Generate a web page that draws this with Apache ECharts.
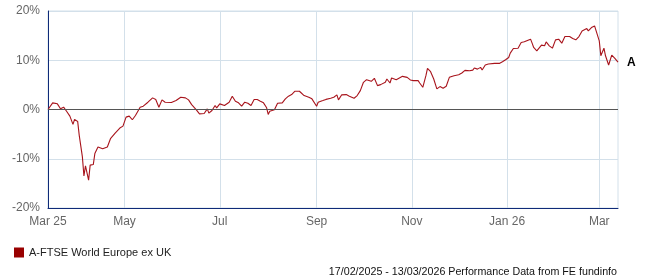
<!DOCTYPE html>
<html>
<head>
<meta charset="utf-8">
<script src="https://cdn.jsdelivr.net/npm/echarts@6/dist/echarts.min.js"></script>
<style>
html,body{margin:0;padding:0;background:#fff;}
#chart{width:647px;height:280px;}
</style>
</head>
<body>
<div id="chart"></div>
<script>
// ---- data ----
var seriesName = 'A-FTSE World Europe ex UK';
var endLabelText = 'A';
var footerText = '17/02/2025 - 13/03/2026 Performance Data from FE fundinfo';
var axisStart = '2025-03-13';
var axisEnd = '2026-03-13';
var gridDates = ['2025-05-01','2025-07-01','2025-09-01','2025-11-01','2026-01-01','2026-03-01'];
var labelDates = ['2025-03-13','2025-05-01','2025-07-01','2025-09-01','2025-11-01','2026-01-01','2026-03-01'];
var labelTexts = ['Mar 25','May','Jul','Sep','Nov','Jan 26','Mar'];
var yTicks = [-20, -10, 0, 10, 20];

var dates = [
'2025-03-13','2025-03-16','2025-03-19','2025-03-21','2025-03-23','2025-03-25','2025-03-27','2025-03-29','2025-03-30',
'2025-04-01','2025-04-02','2025-04-04','2025-04-05','2025-04-06','2025-04-08','2025-04-09','2025-04-11','2025-04-12',
'2025-04-14','2025-04-15','2025-04-17','2025-04-20','2025-04-22','2025-04-25','2025-04-28','2025-04-30',
'2025-05-02','2025-05-04','2025-05-06','2025-05-08','2025-05-11','2025-05-13','2025-05-16','2025-05-19','2025-05-21',
'2025-05-23','2025-05-25','2025-05-27','2025-05-31',
'2025-06-03','2025-06-06','2025-06-09','2025-06-11','2025-06-13','2025-06-14','2025-06-16','2025-06-18','2025-06-21',
'2025-06-23','2025-06-24','2025-06-26','2025-06-28','2025-06-29',
'2025-07-01','2025-07-04','2025-07-07','2025-07-09','2025-07-11','2025-07-13','2025-07-15','2025-07-17','2025-07-19',
'2025-07-21','2025-07-23','2025-07-25','2025-07-27','2025-07-29','2025-07-31',
'2025-08-01','2025-08-02','2025-08-05','2025-08-07','2025-08-10','2025-08-12','2025-08-14','2025-08-16','2025-08-18',
'2025-08-21','2025-08-22','2025-08-24','2025-08-27','2025-08-29',
'2025-09-01','2025-09-02','2025-09-05','2025-09-07','2025-09-10','2025-09-12','2025-09-14','2025-09-15','2025-09-17',
'2025-09-20','2025-09-22','2025-09-23','2025-09-25','2025-09-27','2025-09-29',
'2025-10-01','2025-10-03','2025-10-06','2025-10-08','2025-10-09','2025-10-10','2025-10-12','2025-10-13','2025-10-15',
'2025-10-16','2025-10-18','2025-10-19','2025-10-22','2025-10-24','2025-10-26','2025-10-29','2025-10-31',
'2025-11-02','2025-11-05','2025-11-06','2025-11-08','2025-11-10','2025-11-11','2025-11-13','2025-11-15','2025-11-17',
'2025-11-19','2025-11-21','2025-11-23','2025-11-25','2025-11-28',
'2025-12-01','2025-12-03','2025-12-05','2025-12-08','2025-12-10','2025-12-11','2025-12-13','2025-12-15','2025-12-16',
'2025-12-18','2025-12-20','2025-12-24','2025-12-27','2025-12-29','2025-12-31',
'2026-01-02','2026-01-03','2026-01-05','2026-01-08','2026-01-10','2026-01-12','2026-01-16','2026-01-17','2026-01-18',
'2026-01-20','2026-01-21','2026-01-23','2026-01-25','2026-01-26','2026-01-28','2026-01-30',
'2026-02-01','2026-02-03','2026-02-05','2026-02-07','2026-02-10','2026-02-12','2026-02-14','2026-02-16','2026-02-18',
'2026-02-19','2026-02-21','2026-02-22','2026-02-24','2026-02-26','2026-02-27',
'2026-03-01','2026-03-02','2026-03-04','2026-03-05','2026-03-07','2026-03-09','2026-03-11','2026-03-13'
];
var values = [
0, 1.35, 1.15, 0.14, 0.47, -0.40, -1.35, -3.03, -2.0,
-2.42, -5.25, -9.56, -13.47, -11.45, -14.34, -11.3, -11.18, -8.95,
-7.6, -7.8, -7.95, -7.6, -5.93, -4.79, -3.77, -3.37,
-1.55, -1.35, -2.08, -1.21, 0.47, 0.67, 1.48, 2.36, 2.02,
0.47, 1.95, 1.48, 1.41,
1.82, 2.49, 2.36, 1.95, 1.0, 1.28, -0.07, -0.88, -0.81,
0.13, -0.74, -0.2, 0.81, 0.34,
1.14, 0.81, 1.48, 2.70, 1.68, 1.35, 0.67, 1.48, 1.28,
0.81, 2.02, 2.02, 1.68, 1.35, 0.34,
-1.01, -0.34, -0.07, 1.28, 1.35, 2.16, 2.70, 3.03, 3.70,
3.70, 4.04, 2.83, 2.49, 2.16,
0.67, 1.48, 1.82, 2.05, 2.29, 2.49, 2.96, 1.95, 2.96,
3.03, 2.70, 3.03, 2.29, 2.83, 3.84,
5.52, 6.06, 5.72, 6.33, 6.06, 4.85, 5.05, 4.71, 5.52,
6.19, 5.38, 6.40, 6.06, 6.40, 6.73, 6.53, 6.0,
5.86, 5.86, 5.38, 4.51, 6.87, 8.35, 7.68, 6.19, 4.18,
4.65, 4.31, 4.71, 6.53, 6.87,
7.07, 7.41, 7.95, 7.88, 8.0, 8.42, 8.2, 8.55, 8.02,
9.03, 9.23, 9.36, 9.36, 9.7, 10.1,
10.57, 11.45, 12.38, 12.45, 13.6, 13.74, 14.28, 13.47, 12.59,
11.92, 12.26, 13.07, 12.93, 13.74, 12.93, 12.45,
14.14, 14.28, 13.47, 14.81, 14.81, 14.41, 14.14, 14.81, 15.96,
15.62, 16.43, 15.96, 16.63, 16.97, 16.77,
13.94, 10.91, 12.45, 10.91, 9.03, 11.05, 10.37, 9.6
];

// ---- chart ----
function ts(d){ var p = d.split('-'); return Date.UTC(+p[0], +p[1]-1, +p[2]); }
var labelTs = labelDates.map(ts);
var seriesData = dates.map(function(d, i){ return [ts(d), values[i]]; });

var chart = echarts.init(document.getElementById('chart'), null, {renderer:'canvas'});
var FONT = 'Liberation Sans, Arial, sans-serif';
var option = {
  animation: false,
  grid: {left: 48, right: 29, top: 11, bottom: 72, show: true, borderColor: '#d3e0ea', borderWidth: 1},
  legend: {
    left: 9, top: 242, icon: 'rect', itemWidth: 10, itemHeight: 10,
    textStyle: {color: '#222', fontSize: 11, fontFamily: FONT},
    data: [seriesName]
  },
  xAxis: {
    type: 'value',
    min: ts(axisStart), max: ts(axisEnd),
    axisLine: {show: true, onZero: false, lineStyle: {color: '#0f2a78', width: 1}},
    axisTick: {show: false, customValues: gridDates.map(ts)},
    splitLine: {show: true, lineStyle: {color: '#d3e0ea', width: 1}},
    axisLabel: {
      customValues: labelTs,
      color: '#666', fontSize: 12, fontFamily: FONT, margin: 8,
      formatter: function(v){
        for (var i = 0; i < labelTs.length; i++) {
          if (Math.abs(labelTs[i] - v) < 43200000) return labelTexts[i];
        }
        return '';
      }
    }
  },
  yAxis: {
    type: 'value', min: yTicks[0], max: yTicks[yTicks.length-1], interval: 10,
    axisLine: {show: true, onZero: false, lineStyle: {color: '#0f2a78', width: 1}},
    axisTick: {show: false},
    splitLine: {show: true, lineStyle: {color: '#d3e0ea', width: 1}},
    axisLabel: {color: '#666', fontSize: 12, fontFamily: FONT, margin: 8, formatter: '{value}%'}
  },
  graphic: [{
    type: 'text', right: 30, top: 267,
    style: {text: footerText, fill: '#111', font: '10.7px ' + FONT}
  }],
  series: [{
    name: seriesName, type: 'line', data: seriesData,
    showSymbol: false, symbol: 'none',
    itemStyle: {color: '#990000'},
    lineStyle: {color: '#a8141c', width: 1.1},
    endLabel: {show: true, formatter: endLabelText, color: '#000', fontWeight: 'bold', fontSize: 12, fontFamily: FONT, distance: 9},
    markLine: {
      silent: true, symbol: 'none', animation: false,
      label: {show: false},
      lineStyle: {color: '#555', width: 1, type: 'solid'},
      data: [{yAxis: 0}]
    }
  }]
};
chart.setOption(option);
</script>
</body>
</html>
